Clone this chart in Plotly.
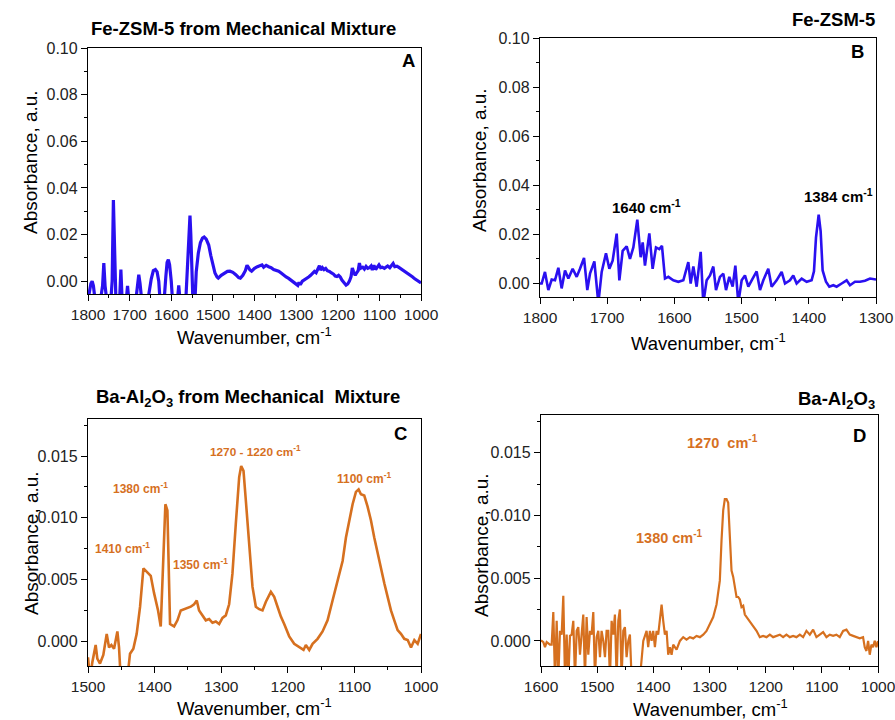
import plotly.graph_objects as go

# ---------------- Panel A: Fe-ZSM-5 from Mechanical Mixture ----------------
a_wn = [1800, 1798, 1793, 1790, 1787, 1783, 1770, 1765, 1762, 1759, 1755, 1745, 1742, 1739, 1736, 1733,
        1724, 1721, 1718, 1708, 1705, 1702, 1685, 1681, 1678, 1675, 1671, 1656, 1652, 1648, 1643, 1638,
        1634, 1630, 1627, 1617, 1613, 1610, 1607, 1604, 1600, 1597, 1585, 1582, 1579, 1565, 1560, 1557,
        1555, 1553, 1550, 1548, 1543, 1540, 1535, 1530, 1525, 1521, 1516, 1510, 1505, 1500, 1495, 1490,
        1487, 1480, 1472, 1465, 1459, 1452, 1445, 1438, 1434, 1428, 1422, 1418, 1415, 1411, 1407, 1400,
        1393, 1387, 1382, 1378, 1372, 1366, 1360, 1354, 1348, 1342, 1336, 1330, 1324, 1318, 1312, 1306,
        1300, 1296, 1293, 1290, 1285, 1280, 1275, 1270, 1265, 1260, 1256, 1252, 1248, 1244, 1241, 1237,
        1233, 1229, 1225, 1220, 1215, 1210, 1206, 1202, 1198, 1194, 1190, 1185, 1180, 1176, 1172, 1168,
        1165, 1162, 1158, 1155, 1151, 1148, 1145, 1140, 1136, 1132, 1128, 1124, 1120, 1117, 1113, 1109,
        1105, 1101, 1097, 1093, 1088, 1084, 1080, 1075, 1071, 1067, 1063, 1058, 1054, 1050, 1045, 1040,
        1035, 1030, 1025, 1020, 1015, 1010, 1005, 1000]
a_abs = [-0.008, -0.006, -0.001, 0.0, -0.002, -0.008, -0.008, -0.002, 0.0078, -0.002, -0.008, -0.008, 0.0, 0.0348, 0.002, -0.008,
         -0.008, 0.005, -0.008, -0.008, -0.002, -0.008, -0.008, -0.001, 0.0028, -0.001, -0.008, -0.008, -0.0025, 0.001, 0.0045, 0.005,
         0.004, 0.0, -0.008, -0.008, 0.002, 0.008, 0.0092, 0.007, 0.0, -0.008, -0.008, -0.0018, -0.008, -0.008, 0.010, 0.026,
         0.0281, 0.02, 0.0, -0.008, -0.008, 0.004, 0.012, 0.0165, 0.0185, 0.0189, 0.018, 0.0155, 0.011, 0.0065, 0.0035, 0.0018,
         0.0013, 0.0025, 0.0035, 0.0042, 0.0043, 0.0038, 0.0028, 0.0015, 0.0013, 0.0025, 0.0045, 0.0068, 0.006, 0.0048, 0.0043, 0.0055,
         0.0062, 0.0065, 0.007, 0.006, 0.0068, 0.0062, 0.0058, 0.005, 0.0047, 0.0043, 0.0035, 0.0025, 0.0018, 0.0012, 0.0003, -0.0005,
         -0.0012, -0.0018, -0.0005, -0.0015, 0.0, 0.0005, 0.0012, 0.0018, 0.0025, 0.0035, 0.0042, 0.0036, 0.005, 0.0066, 0.0048, 0.0058,
         0.005, 0.0055, 0.0045, 0.0042, 0.0035, 0.003, 0.0022, 0.002, 0.0025, 0.0018, 0.0005, -0.0008, -0.0017, -0.0012, 0.0, 0.002,
         0.0057, 0.004, 0.0025, 0.0035, 0.0045, 0.0078, 0.0055, 0.006, 0.0052, 0.0063, 0.0055, 0.0058, 0.0065, 0.0048, 0.0068, 0.005,
         0.0062, 0.007, 0.0058, 0.006, 0.0055, 0.0062, 0.0065, 0.0058, 0.0065, 0.0076, 0.0062, 0.0064, 0.006, 0.0055, 0.0052, 0.0045,
         0.0038, 0.003, 0.0025, 0.0018, 0.001, 0.0005, -0.0002, -0.0008]

# ---------------- Panel B: Fe-ZSM-5 ----------------
b_wn = [1800, 1797.5, 1792.6, 1787.6, 1782.6, 1777.7, 1772.7, 1767.8, 1762.8, 1757.8, 1751.4, 1745.4, 1740.5, 1734.5,
        1729.6, 1725.6, 1719.1, 1713.2, 1708.2, 1701.8, 1696.8, 1691.9, 1685.9, 1681.9, 1677.0, 1671.0, 1666.1,
        1661.1, 1655.2, 1650.2, 1647.2, 1643.8, 1637.3, 1632.4, 1627.4, 1622.4, 1618.5, 1614.0, 1609.0, 1601.6,
        1594.2, 1586.7, 1579.3, 1575.8, 1571.8, 1566.9, 1560.9, 1557.0, 1552.0, 1547.0, 1542.1, 1538.1, 1532.2,
        1527.2, 1523.2, 1518.3, 1513.3, 1509.3, 1504.9, 1499.9, 1495.0, 1490.0, 1485.0, 1477.6, 1472.6, 1467.7,
        1460.3, 1455.3, 1447.9, 1440.4, 1435.4, 1428.0, 1423.1, 1418.1, 1410.6, 1403.2, 1395.8, 1392.3, 1389.3,
        1385.3, 1382.4, 1379.4, 1374.4, 1369.5, 1363.5, 1358.6, 1351.1, 1343.7, 1338.7, 1331.3, 1323.8, 1316.4,
        1308.9, 1301.5, 1300]
b_abs = [0.0, 0.0, 0.0047, -0.0027, 0.0016, 0.0013, 0.0064, -0.002, 0.0053, 0.002, 0.006, 0.0027, 0.006, 0.0104,
         -0.0027, 0.004, 0.009, -0.008, 0.0047, 0.0123, 0.006, 0.0093, 0.0203, 0.0013, 0.0133, 0.0151, 0.010,
         0.0147, 0.026, 0.0107, 0.0167, 0.0073, 0.0204, 0.006, 0.0147, 0.014, 0.0153, 0.002, 0.0027, 0.0013,
         0.0007, 0.0013, 0.0087, 0.0, 0.0069, -0.0013, 0.0129, -0.008, 0.0013, 0.0033, 0.0069, -0.0027, 0.0027,
         0.004, -0.0027, 0.0027, -0.0013, 0.0073, -0.008, 0.0013, 0.0033, -0.0013, 0.0013, 0.0049, -0.0027, 0.0013,
         0.006, -0.0013, 0.0013, 0.0047, 0.0, 0.0013, 0.0033, 0.0, 0.002, 0.0007, 0.0013, 0.005, 0.0187,
         0.028, 0.0213, 0.0053, 0.0007, -0.0013, -0.0007, -0.0013, 0.0, 0.0013, -0.0007, 0.0007, 0.0007, 0.0011,
         0.002, 0.0016, 0.0016]

# ---------------- Panel C: Ba-Al2O3 from Mechanical Mixture ----------------
c_wn = [1500, 1497.0, 1493.5, 1488.5, 1486.0, 1482.0, 1477.0, 1471.9, 1468.4, 1464.9, 1460.9, 1455.9, 1453.4,
        1450.9, 1448.4, 1440.9, 1436.9, 1431.9, 1426.9, 1421.8, 1416.8, 1410.8, 1405.8, 1400.8, 1394.8, 1390.8,
        1387.8, 1383.8, 1380.8, 1378.8, 1376.8, 1370.7, 1365.7, 1360.7, 1355.7, 1350.7, 1345.7, 1340.7, 1336.7,
        1333.2, 1328.2, 1323.1, 1318.1, 1313.1, 1308.1, 1303.1, 1298.1, 1293.1, 1288.1, 1283.1, 1278.1, 1273.0,
        1270.0, 1266.5, 1263.0, 1258.0, 1253.0, 1248.0, 1243.0, 1238.0, 1232.9, 1225.4, 1220.4, 1215.4, 1210.4,
        1205.4, 1197.9, 1190.4, 1182.9, 1176.4, 1172.9, 1167.8, 1162.8, 1155.3, 1147.8, 1140.3, 1132.8, 1125.3,
        1117.7, 1112.7, 1107.7, 1102.7, 1097.7, 1093.7, 1090.2, 1085.2, 1080.2, 1075.2, 1070.2, 1065.1, 1060.1,
        1055.1, 1050.1, 1045.1, 1040.1, 1035.1, 1030.1, 1025.1, 1020.0, 1015.0, 1010.0, 1005.0, 1000.0]
c_abs = [-0.0013, -0.003, -0.0017, -0.0003, -0.0014, -0.0018, -0.0011, 0.0006, -0.0005, -0.0003, -0.0006, 0.0008, -0.0005,
         -0.003, -0.003, -0.003, -0.001, -0.0006, 0.0006, 0.0028, 0.0059, 0.0056, 0.0053, 0.0039, 0.0025, 0.0012,
         0.006, 0.0111, 0.0106, 0.0049, 0.0014, 0.0012, 0.0017, 0.0025, 0.0026, 0.0027, 0.0028, 0.003, 0.0033,
         0.0025, 0.0021, 0.0017, 0.0018, 0.0015, 0.0016, 0.0014, 0.0019, 0.0021, 0.003, 0.0055, 0.0095, 0.0133,
         0.0142, 0.0138, 0.0114, 0.0076, 0.0044, 0.0028, 0.0026, 0.0025, 0.0032, 0.004, 0.0036, 0.0028, 0.002,
         0.0014, 0.0004, -0.0002, -0.0005, -0.0007, -0.0003, -0.0007, -0.0002, 0.0002, 0.0008, 0.0017, 0.0033, 0.0049,
         0.0065, 0.0084, 0.0098, 0.0111, 0.0121, 0.0123, 0.0119, 0.0118, 0.0109, 0.0098, 0.0084, 0.0071, 0.0057,
         0.0047, 0.0036, 0.0025, 0.0017, 0.0009, 0.0006, 0.0002, 0.0001, -0.0005, 0.0001, -0.0002, 0.0006]

# ---------------- Panel D: Ba-Al2O3 ----------------
d_wn = [1600, 1598.8, 1595.8, 1592.9, 1589.9, 1587.0, 1584.0, 1581.0, 1578.1, 1575.1, 1572.1, 1569.2, 1566.2, 1563.2,
        1560.3, 1557.3, 1554.3, 1551.4, 1548.4, 1545.4, 1542.5, 1539.5, 1536.5, 1533.6, 1530.6, 1527.7, 1524.7,
        1521.7, 1518.8, 1515.8, 1512.8, 1509.9, 1506.9, 1503.9, 1501.0, 1498.0, 1495.0, 1492.1, 1489.1, 1486.1,
        1483.2, 1480.2, 1477.2, 1474.3, 1471.3, 1468.4, 1465.4, 1462.4, 1459.5, 1456.5, 1453.5, 1450.6, 1447.6,
        1444.6, 1441.7, 1438.7, 1435.7, 1423.9, 1417.9, 1415.0, 1412.0, 1409.1, 1406.1, 1403.1, 1400.2, 1397.2,
        1394.2, 1391.3, 1388.3, 1385.3, 1382.4, 1379.4, 1376.4, 1373.5, 1370.5, 1367.5, 1364.6, 1358.6, 1352.7,
        1346.8, 1340.9, 1334.9, 1329.0, 1323.1, 1317.1, 1311.2, 1305.3, 1299.4, 1293.4, 1287.5, 1281.6, 1278.6,
        1275.6, 1272.7, 1269.7, 1266.7, 1263.8, 1260.8, 1257.8, 1254.9, 1251.9, 1248.9, 1246.0, 1243.0, 1240.0,
        1237.1, 1234.1, 1228.2, 1222.3, 1216.3, 1210.4, 1204.5, 1198.5, 1192.6, 1186.7, 1180.7, 1174.8, 1168.9,
        1163.0, 1157.0, 1151.1, 1145.2, 1139.2, 1133.3, 1127.4, 1121.4, 1115.5, 1109.6, 1103.6, 1097.7, 1091.8,
        1085.9, 1079.9, 1074.0, 1068.1, 1062.1, 1056.2, 1050.3, 1044.3, 1038.4, 1032.5, 1026.6, 1023.6, 1020.6,
        1017.6, 1014.7, 1011.7, 1008.8, 1005.8, 1002.8, 1000.0]
d_abs = [0.0, 0.0, -0.0001, -0.0005, -0.0001, -0.0002, -0.0003, -0.0003, 0.0023, -0.003, 0.0016, -0.003, 0.0008, 0.0005,
         0.0036, -0.003, 0.0005, -0.003, 0.0004, 0.0005, 0.0016, -0.003, 0.0008, 0.0011, -0.0011, 0.0005, 0.0021,
         -0.003, 0.0019, -0.0011, 0.0008, 0.0005, 0.0023, -0.003, 0.0003, 0.0008, -0.0013, 0.0008, 0.0, -0.0013,
         0.0008, 0.0008, -0.003, 0.0016, 0.0005, 0.0021, -0.003, 0.0016, 0.0025, -0.003, 0.0008, 0.0011, -0.0013,
         0.0, 0.0005, -0.003, -0.003, -0.003, 0.0, 0.0005, 0.0008, -0.0005, 0.0008, 0.0, 0.0008, -0.0005,
         0.0008, 0.0005, 0.0016, 0.0029, 0.0016, 0.0005, 0.0008, -0.0011, -0.0005, -0.0011, -0.0003, -0.0007, 0.0,
         0.0003, 0.0001, 0.0003, 0.0002, 0.0004, 0.0003, 0.0005, 0.0008, 0.0013, 0.0019, 0.0029, 0.0048, 0.008,
         0.0104, 0.0113, 0.0113, 0.011, 0.008, 0.0056, 0.0051, 0.0043, 0.0035, 0.0035, 0.0033, 0.0027, 0.0028,
         0.0021, 0.0019, 0.0016, 0.0011, 0.0008, 0.0003, 0.0004, 0.0003, 0.0005, 0.0003, 0.0004, 0.0005, 0.0003,
         0.0005, 0.0003, 0.0004, 0.0003, 0.0005, 0.0003, 0.0008, 0.0005, 0.0009, 0.0003, 0.0005, 0.0007, 0.0003,
         0.0005, 0.0004, 0.0005, 0.0003, 0.0008, 0.0009, 0.0005, 0.0004, 0.0003, 0.0002, 0.0003, -0.0005, -0.0008,
         0.0, -0.0011, -0.0003, -0.0005, 0.0, -0.0005, 0.0]

BLUE = "#2a10f0"
ORANGE = "#d6701f"
FONT = "Liberation Sans, Arial, sans-serif"

W, H = 895, 720


def px(x):
    return x / W


def py(y):
    return 1 - y / H


fig = go.Figure()
fig.add_trace(go.Scatter(x=a_wn, y=a_abs, mode="lines", line=dict(color=BLUE, width=3.2), xaxis="x", yaxis="y"))
fig.add_trace(go.Scatter(x=b_wn, y=b_abs, mode="lines", line=dict(color=BLUE, width=2.6), xaxis="x2", yaxis="y2"))
fig.add_trace(go.Scatter(x=c_wn, y=c_abs, mode="lines", line=dict(color=ORANGE, width=2.6), xaxis="x3", yaxis="y3"))
fig.add_trace(go.Scatter(x=d_wn, y=d_abs, mode="lines", line=dict(color=ORANGE, width=2.2), xaxis="x4", yaxis="y4"))

common = dict(showline=True, linecolor="black", linewidth=1.3, mirror=True, ticks="outside", ticklen=6,
              tickwidth=1.2, tickcolor="black", showgrid=False, zeroline=False, automargin=False,
              ticklabeloverflow="allow")
MINOR = dict(ticks="outside", ticklen=3, tickcolor="black", tickwidth=1.2)


def xax(dom, rng, anchor):
    return dict(common, domain=dom, range=rng, dtick=100, tick0=1000, anchor=anchor,
                tickfont=dict(family=FONT, size=15.5, color="#222"),
                minor=dict(MINOR, dtick=50, tick0=1000))


def yax_big(dom, anchor):
    return dict(common, domain=dom, range=[-0.0055, 0.10], dtick=0.02, tick0=0, tickformat=".2f", anchor=anchor,
                tickfont=dict(family=FONT, size=16, color="#222"),
                minor=dict(MINOR, dtick=0.01, tick0=0))


def yax_small(dom, anchor):
    return dict(common, domain=dom, range=[-0.002, 0.018], tickvals=[0, 0.005, 0.010, 0.015],
                tickformat=".3f", anchor=anchor,
                tickfont=dict(family=FONT, size=16, color="#222"),
                minor=dict(MINOR, dtick=0.0025, tick0=0))


fig.update_layout(
    template="none",
    width=W, height=H, margin=dict(l=0, r=0, t=0, b=0, autoexpand=False),
    paper_bgcolor="white", plot_bgcolor="white", showlegend=False,
    font=dict(family=FONT, color="black"),
    xaxis=xax([px(88), px(421)], [1800, 1000], "y"),
    yaxis=yax_big([py(294), py(48)], "x"),
    xaxis2=xax([px(540), px(876)], [1800, 1300], "y2"),
    yaxis2=yax_big([py(297), py(38)], "x2"),
    xaxis3=xax([px(88), px(421)], [1500, 1000], "y3"),
    yaxis3=yax_small([py(666), py(419)], "x3"),
    xaxis4=xax([px(541), px(878)], [1600, 1000], "y4"),
    yaxis4=yax_small([py(666), py(415)], "x4"),
)

ann = []


def text(x, y, s, size, color="black", bold=False, xanchor="center", angle=0):
    if bold:
        s = "<b>" + s + "</b>"
    ann.append(dict(x=px(x), y=py(y), xref="paper", yref="paper", text=s, showarrow=False,
                    xanchor=xanchor, yanchor="middle", textangle=angle,
                    font=dict(family=FONT, size=size, color=color)))


# titles
text(243, 29, "Fe-ZSM-5 from Mechanical Mixture", 18.5, bold=True)
text(877, 19, "Fe-ZSM-5", 18.5, bold=True, xanchor="right")
text(248, 398, "Ba-Al<sub>2</sub>O<sub>3</sub> from Mechanical  Mixture", 18.5, bold=True)
text(877, 400, "Ba-Al<sub>2</sub>O<sub>3</sub>", 18.5, bold=True, xanchor="right")

# panel letters
text(408, 60, "A", 18.5, bold=True)
text(857, 52, "B", 18.5, bold=True)
text(400, 433, "C", 18.5, bold=True)
text(859, 435, "D", 18.5, bold=True)

# axis titles
for x, y in [(31, 162), (479, 160), (31, 543), (481, 545)]:
    text(x, y, "Absorbance, a.u.", 19, angle=-90)
text(255, 336, "Wavenumber, cm<sup>-1</sup>", 18.5)
text(708, 342, "Wavenumber, cm<sup>-1</sup>", 18.5)
text(255, 707, "Wavenumber, cm<sup>-1</sup>", 18.5)
text(710, 708, "Wavenumber, cm<sup>-1</sup>", 18.5)

# peak labels B
text(646, 206, "1640 cm<sup>-1</sup>", 15, bold=True)
text(838, 196, "1384 cm<sup>-1</sup>", 15, bold=True)

# peak labels C
text(122, 548, "1410 cm<sup>-1</sup>", 12, color=ORANGE, bold=True)
text(140, 488, "1380 cm<sup>-1</sup>", 12, color=ORANGE, bold=True)
text(200, 564, "1350 cm<sup>-1</sup>", 12, color=ORANGE, bold=True)
text(256, 451, "1270 - 1220 cm<sup>-1</sup>", 11.8, color=ORANGE, bold=True)
text(364, 478, "1100 cm<sup>-1</sup>", 12, color=ORANGE, bold=True)

# peak labels D
text(722, 442, "1270  cm<sup>-1</sup>", 14.5, color=ORANGE, bold=True)
text(669, 537, "1380 cm<sup>-1</sup>", 14.5, color=ORANGE, bold=True)

fig.update_layout(annotations=ann)
fig.write_html("out.html")
